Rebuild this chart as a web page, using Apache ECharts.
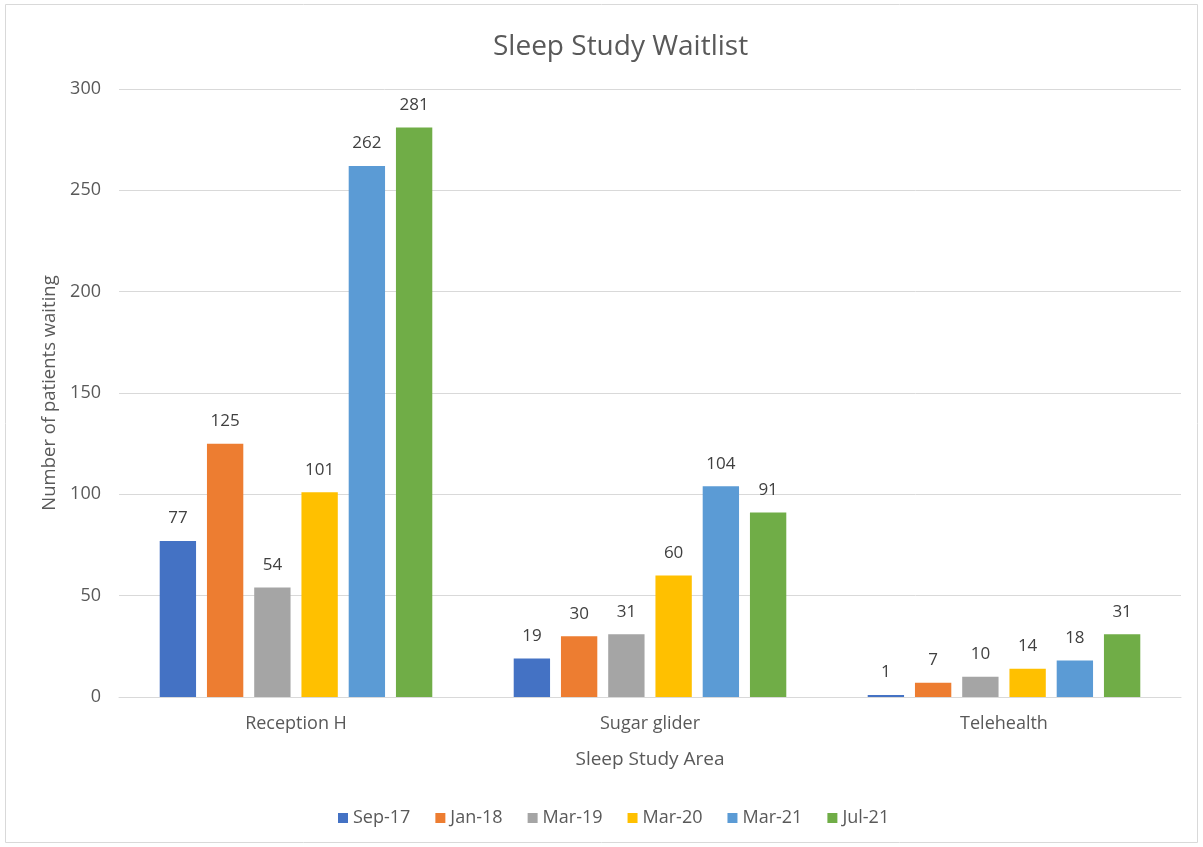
<!DOCTYPE html>
<html>
<head>
<meta charset="utf-8">
<script src="https://cdn.jsdelivr.net/npm/echarts@6/dist/echarts.min.js"></script>
<style>
html,body{margin:0;padding:0;background:#fff;}
#main{width:1203px;height:847px;}
</style>
</head>
<body>
<div id="main"></div>
<script>
const categories = ['Reception H', 'Sugar glider', 'Telehealth'];
const seriesNames = ['Sep-17', 'Jan-18', 'Mar-19', 'Mar-20', 'Mar-21', 'Jul-21'];
const sep17 = [77, 19, 1];
const jan18 = [125, 30, 7];
const mar19 = [54, 31, 10];
const mar20 = [101, 60, 14];
const mar21 = [262, 104, 18];
const jul21 = [281, 91, 31];
const colors = ['#4472C4', '#ED7D31', '#A5A5A5', '#FFC000', '#5B9BD5', '#70AD47'];
const values = [sep17, jan18, mar19, mar20, mar21, jul21];

const FONT = '"Open Sans", "Noto Sans", sans-serif';
const chart = echarts.init(document.getElementById('main'));
chart.setOption({
  animation: false,
  color: colors,
  graphic: [{
    type: 'rect',
    shape: {x: 5.5, y: 4.5, width: 1192, height: 838},
    style: {fill: 'none', stroke: '#d9d9d9', lineWidth: 1},
    silent: true
  }],
  title: {
    text: 'Sleep Study Waitlist',
    left: 488,
    top: 28,
    textStyle: {fontFamily: FONT, fontSize: 28, fontWeight: 'normal', color: '#595959'}
  },
  legend: {
    top: 804,
    left: 333,
    itemWidth: 10,
    itemHeight: 10,
    itemGap: 25,
    icon: 'rect',
    textStyle: {fontFamily: FONT, fontSize: 18, color: '#595959'},
    data: seriesNames
  },
  grid: {left: 119, right: 22, top: 89, bottom: 150, containLabel: false},
  xAxis: {
    type: 'category',
    data: categories,
    name: 'Sleep Study Area',
    nameLocation: 'middle',
    nameGap: 53,
    nameTextStyle: {fontFamily: FONT, fontSize: 19, color: '#595959'},
    axisLine: {lineStyle: {color: '#d9d9d9'}},
    axisTick: {show: false},
    axisLabel: {fontFamily: FONT, fontSize: 18, color: '#595959', margin: 18}
  },
  yAxis: {
    type: 'value',
    min: 0,
    max: 300,
    interval: 50,
    name: 'Number of patients waiting',
    nameLocation: 'middle',
    nameGap: 54,
    nameTextStyle: {fontFamily: FONT, fontSize: 18.5, color: '#595959'},
    axisLine: {show: false},
    axisTick: {show: false},
    axisLabel: {fontFamily: FONT, fontSize: 18, color: '#595959', margin: 18},
    splitLine: {lineStyle: {color: '#d9d9d9'}}
  },
  series: seriesNames.map((n, i) => ({
    name: n,
    type: 'bar',
    data: values[i],
    barGap: '30%',
    barCategoryGap: '23%',
    itemStyle: {color: colors[i]},
    label: {
      show: true,
      position: 'top',
      distance: 14,
      fontFamily: FONT,
      fontSize: 17,
      color: '#404040'
    }
  }))
});
</script>
</body>
</html>
